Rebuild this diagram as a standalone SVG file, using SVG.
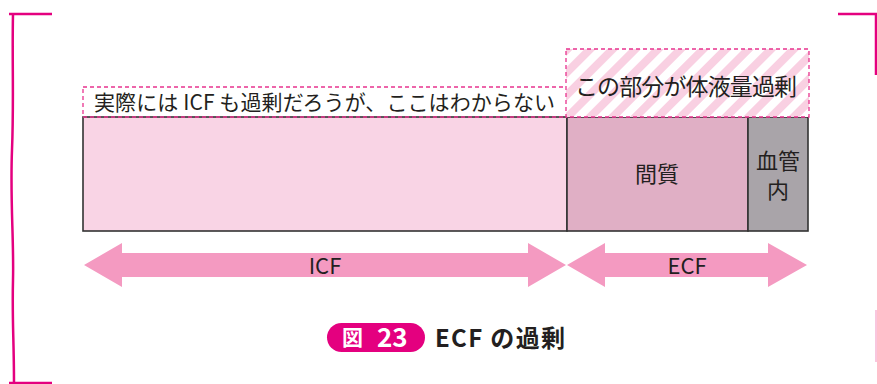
<svg xmlns="http://www.w3.org/2000/svg" width="877" height="384" viewBox="0 0 877 384">
<defs>
<style>
.t{font-family:"Noto Sans CJK JP","Noto Sans",sans-serif;fill:#231f20}
.dash{fill:none;stroke:#e8338f;stroke-width:1.3;stroke-dasharray:4 3}
.box{stroke:#333;stroke-width:1.6}
.arr{fill:#f49ac1}
.frame{fill:none;stroke:#e4007f;stroke-width:2.5}
</style>
<pattern id="hatch" width="16" height="16" patternUnits="userSpaceOnUse" patternTransform="rotate(45)">
<rect width="16" height="16" fill="#fff"/>
<rect width="8" height="16" fill="#f9d0e2"/>
</pattern>
</defs>
<g id="frame">
<path class="frame" d="M9 14H52"/>
<path class="frame" d="M13 14 C12 60,14 100,12 150 S14 240,13 280 S14 340,14 383"/>
<path class="frame" d="M9 383H52"/>
<path class="frame" d="M838 14H876V75"/>
<path d="M876 310V362" stroke="#f7b3d3" stroke-width="1.5"/>
</g>
<g id="icf">
<rect class="box" x="83" y="117" width="484" height="114" fill="#f9d4e5"/>
</g>
<g id="interstitial">
<rect class="box" x="567" y="117" width="181" height="114" fill="#e0afc5"/>
<text class="t" x="657" y="182" font-size="22" text-anchor="middle">間質</text>
</g>
<g id="vascular">
<rect class="box" x="748" y="117" width="60" height="114" fill="#a9a4a9"/>
<text class="t" x="778" y="169" font-size="22" text-anchor="middle">血管</text>
<text class="t" x="778" y="198" font-size="22" text-anchor="middle">内</text>
</g>
<g id="label-icf">
<rect class="dash" x="83" y="87" width="484" height="30"/>
<text class="t" x="94" y="110" font-size="21" textLength="461">実際には ICF も過剰だろうが、ここはわからない</text>
</g>
<g id="label-excess">
<rect x="566" y="49" width="243" height="68" fill="url(#hatch)" stroke="#e8338f" stroke-width="1.3" stroke-dasharray="4 3"/>
<text class="t" x="575" y="95" font-size="23" textLength="222">この部分が体液量過剰</text>
</g>
<g id="connectors">
<path class="arr" d="M84 265 L122 243 V253 H528 V243 L566 265 L528 287 V277 H122 V287 Z"/>
<path class="arr" d="M567 265 L605 243 V253 H768 V243 L807 265 L768 287 V277 H605 V287 Z"/>
<text class="t" x="325" y="274" font-size="22" text-anchor="middle">ICF</text>
<text class="t" x="687" y="274" font-size="22" text-anchor="middle">ECF</text>
</g>
<g id="caption">
<rect x="327" y="323" width="98" height="29" rx="14.5" fill="#e4007f"/>
<text x="342" y="345" font-size="21" fill="#fff" font-family="Noto Sans CJK JP,sans-serif" font-weight="bold">図</text>
<text x="377" y="347" font-size="26" fill="#fff" font-family="Noto Sans CJK JP,sans-serif" font-weight="bold">23</text>
<text class="t" x="435" y="347" font-size="24" font-weight="bold" textLength="130">ECF の過剰</text>
</g>
</svg>
